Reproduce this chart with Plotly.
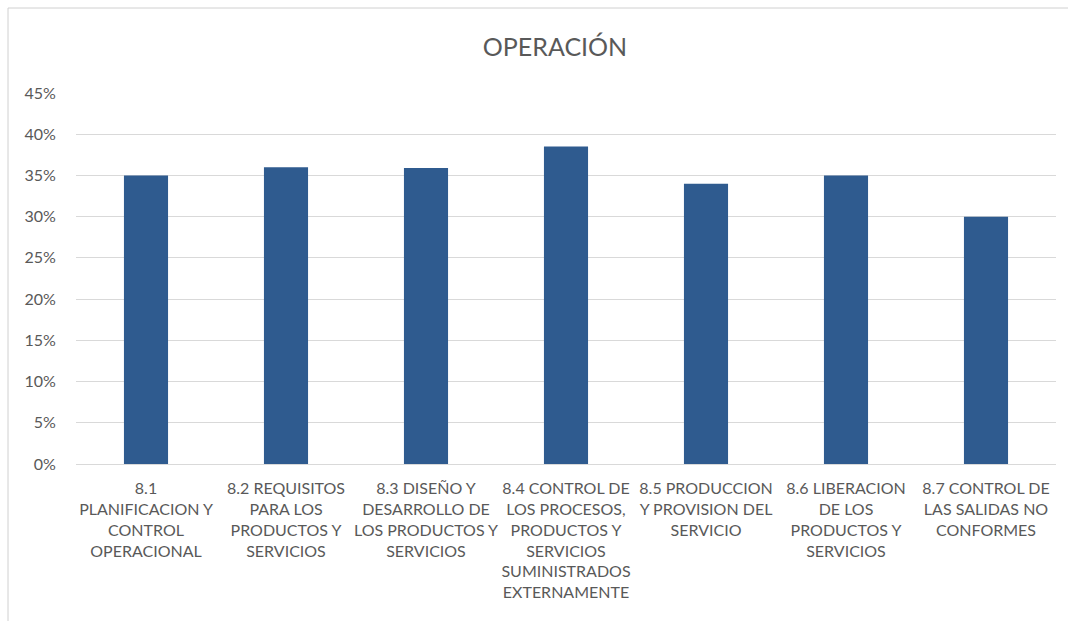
import plotly.graph_objects as go

# Categories (chapter 8 clauses) and compliance percentages
categorias = [
    "8.1<br>PLANIFICACION Y<br>CONTROL<br>OPERACIONAL",
    "8.2 REQUISITOS<br>PARA LOS<br>PRODUCTOS Y<br>SERVICIOS",
    "8.3 DISEÑO Y<br>DESARROLLO DE<br>LOS PRODUCTOS Y<br>SERVICIOS",
    "8.4 CONTROL DE<br>LOS PROCESOS,<br>PRODUCTOS Y<br>SERVICIOS<br>SUMINISTRADOS<br>EXTERNAMENTE",
    "8.5 PRODUCCION<br>Y PROVISION DEL<br>SERVICIO",
    "8.6 LIBERACION<br>DE LOS<br>PRODUCTOS Y<br>SERVICIOS",
    "8.7 CONTROL DE<br>LAS SALIDAS NO<br>CONFORMES",
]
valores = [35, 36, 35.9, 38.5, 34, 35, 30]
ticks_y = [0, 5, 10, 15, 20, 25, 30, 35, 40, 45]
etiquetas_y = [f"{v}%" for v in ticks_y]

FONT = "Lato, Carlito, Calibri, sans-serif"
GRIS = "#595959"

fig = go.Figure(
    go.Bar(
        x=categorias,
        y=valores,
        marker=dict(color="#2F5B8F", line=dict(width=0)),
        hoverinfo="x+y",
    )
)

W, H = 1068, 621
L, R, T, B = 76, 12, 93, 157
pw, ph = W - L - R, H - T - B

fig.update_layout(
    width=W,
    height=H,
    margin=dict(l=L, r=R, t=T, b=B, pad=0),
    paper_bgcolor="white",
    plot_bgcolor="white",
    bargap=0.685,
    showlegend=False,
    font=dict(family=FONT, color=GRIS, size=16),
    title=dict(
        text="OPERACIÓN",
        font=dict(family=FONT, size=25, color=GRIS),
        x=(555 - L) / pw,
        xref="paper",
        xanchor="center",
        y=1 - 47 / H,
        yref="container",
        yanchor="middle",
    ),
    xaxis=dict(
        showgrid=False,
        showline=True,
        linecolor="#D9D9D9",
        linewidth=1,
        ticks="",
        tickfont=dict(family=FONT, size=16, color=GRIS),
        tickangle=0,
        ticklabelstandoff=10,
    ),
    yaxis=dict(
        range=[0, 45],
        tickmode="array",
        tickvals=ticks_y,
        ticktext=etiquetas_y,
        showgrid=True,
        gridcolor="#D9D9D9",
        gridwidth=1,
        zeroline=False,
        showline=False,
        # invisible ticks give the labels their gap from the plot area
        ticks="outside",
        ticklen=16,
        tickcolor="rgba(0,0,0,0)",
        tickfont=dict(family=FONT, size=16, color=GRIS),
    ),
    shapes=[
        # thin frame along the top and left of the chart area
        dict(
            type="rect",
            xref="paper",
            yref="paper",
            x0=(8 - L) / pw,
            x1=(W + 60 - L) / pw,
            y0=-(H + 60 - (H - B)) / ph,
            y1=((H - B) - 8) / ph,
            line=dict(color="#D0D0D0", width=1),
            fillcolor="rgba(0,0,0,0)",
            layer="below",
        )
    ],
)

fig.write_html("out.html")
